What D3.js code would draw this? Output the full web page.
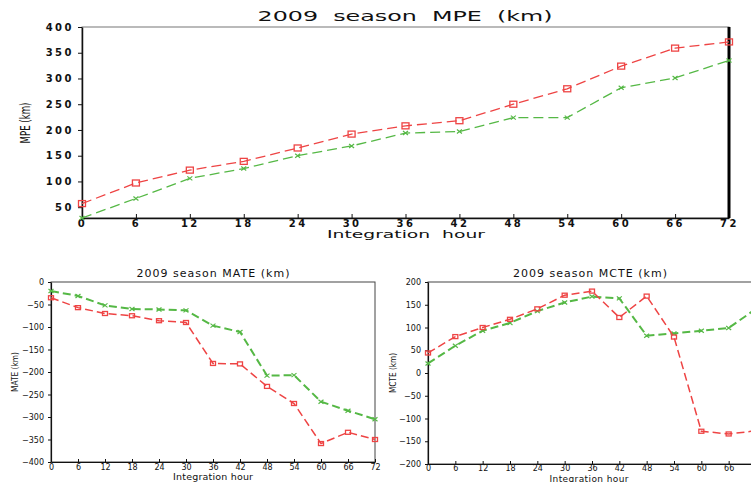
<!DOCTYPE html>
<html>
<head>
<meta charset="utf-8">
<script src="https://cdn.jsdelivr.net/npm/d3@7"></script>
<style>
  body { margin: 0; background: #fff; }
  svg { display: block; }
  text { font-family: "DejaVu Sans", sans-serif; fill: #111; white-space: pre; }
</style>
</head>
<body>
<script>
// Forecast hours shared by all three panels
const hours = [0, 6, 12, 18, 24, 30, 36, 42, 48, 54, 60, 66, 72];

// MPE (km)
const mpeRed   = [57, 97, 122, 139, 165, 192, 208, 218, 250, 280, 324, 359, 371];
const mpeGreen = [29, 67, 106, 125, 150, 169, 194, 197, 224, 224, 282, 301, 335];
const mpeTicks = [50, 100, 150, 200, 250, 300, 350, 400];

// MATE (km)
const mateRed   = [-35, -57, -70, -75, -86, -90, -181, -182, -232, -270, -359, -334, -350];
const mateGreen = [-20, -31, -52, -60, -61, -63, -97, -111, -208, -207, -266, -286, -305];
const mateTicks = [-400, -350, -300, -250, -200, -150, -100, -50, 0];

// MCTE (km)
const mcteRed   = [44, 80, 100, 118, 141, 171, 180, 122, 169, 79, -128, -134, -127];
const mcteGreen = [21, 60, 93, 110, 136, 155, 168, 164, 82, 87, 93, 99, 141];
const mcteTicks = [-200, -150, -100, -50, 0, 50, 100, 150, 200];

const RED = '#ee4444';
const GREEN = '#55b845';

const svg = d3.select('body').append('svg')
    .attr('width', 751)
    .attr('height', 482);

// draws one panel
function drawPanel(p) {
    const x = d3.scaleLinear().domain([0, 72]).range([p.left, p.right]);
    const y = d3.scaleLinear().domain(p.yDomain).range([p.bottom, p.top]);
    const g = svg.append('g');

    const clipId = 'clip' + p.id;
    svg.append('clipPath').attr('id', clipId)
        .append('rect')
        .attr('x', p.left - 6).attr('y', p.top - 6)
        .attr('width', p.right - p.left + 12).attr('height', p.bottom - p.top + 12);

    // frame
    g.append('rect')
        .attr('x', p.left).attr('y', p.top)
        .attr('width', p.right - p.left).attr('height', p.bottom - p.top)
        .attr('fill', 'none')
        .attr('stroke', p.frameColor)
        .attr('stroke-width', 1);

    // axes
    const xAxis = d3.axisBottom(x).tickValues(hours).tickSize(p.tick).tickSizeOuter(0)
        .tickFormat(d3.format('d'));
    const yAxis = d3.axisLeft(y).tickValues(p.yTicks).tickSize(p.tick).tickSizeOuter(0)
        .tickFormat(d => String(d).replace('-', '\u2212'));

    const gx = g.append('g').attr('transform', `translate(0,${p.bottom})`).call(xAxis);
    const gy = g.append('g').attr('transform', `translate(${p.left},0)`).call(yAxis);
    [gx, gy].forEach(a => {
        a.select('.domain').attr('stroke', '#111').attr('stroke-width', p.axisWidth);
        a.selectAll('.tick line').attr('stroke', '#111');
        a.selectAll('text')
            .attr('fill', '#111')
            .style('font-size', p.tickFont + 'px')
            .style('font-weight', p.tickWeight)
            .style('letter-spacing', p.tickSpacing + 'px')
            .style('font-family', '"DejaVu Sans", sans-serif');
    });
    gx.selectAll('.tick line').attr('y2', -p.tick);
    gx.selectAll('text').attr('y', p.xTickY).attr('dy', '0.71em');
    gy.selectAll('text').attr('dx', p.yTickDx);

    if (p.rightBorder) {
        g.append('line')
            .attr('x1', p.right).attr('x2', p.right)
            .attr('y1', p.top).attr('y2', p.bottom)
            .attr('stroke', '#000').attr('stroke-width', 3);
    }

    // series
    const plot = g.append('g').attr('clip-path', `url(#${clipId})`);
    const line = d3.line().x((d, i) => x(hours[i])).y(d => y(d));

    plot.append('path').datum(p.green)
        .attr('d', line).attr('fill', 'none')
        .attr('stroke', GREEN).attr('stroke-width', p.greenWidth)
        .attr('stroke-dasharray', p.dash);
    plot.selectAll('.gm').data(p.green).enter().append('path')
        .attr('class', 'gm')
        .attr('transform', (d, i) => `translate(${x(hours[i])},${y(d)})`)
        .attr('d', 'M-2.5,-2L2.5,2M-2.5,2L2.5,-2')
        .attr('stroke', GREEN).attr('stroke-width', 1.2);

    plot.append('path').datum(p.red)
        .attr('d', line).attr('fill', 'none')
        .attr('stroke', RED).attr('stroke-width', p.lineWidth)
        .attr('stroke-dasharray', p.dash);
    plot.selectAll('.rm').data(p.red).enter().append('rect')
        .attr('class', 'rm')
        .attr('x', (d, i) => x(hours[i]) - p.sq / 2)
        .attr('y', d => y(d) - p.sq / 2 + 0.5)
        .attr('width', p.sq).attr('height', p.sq - 1)
        .attr('fill', 'none')
        .attr('stroke', RED).attr('stroke-width', 1.3);

    // texts
    svg.append('text')
        .attr('x', p.titleX).attr('y', p.titleY)
        .attr('text-anchor', 'middle')
        .attr('textLength', p.titleLen).attr('lengthAdjust', p.adjust)
        .style('font-size', p.titleFont + 'px')
        .text(p.title);

    svg.append('text')
        .attr('x', p.xLabelX).attr('y', p.xLabelY)
        .attr('text-anchor', 'middle')
        .attr('textLength', p.xLabelLen).attr('lengthAdjust', p.adjust)
        .style('font-size', p.xLabelFont + 'px')
        .text(p.xLabel);

    svg.append('text')
        .attr('transform', `translate(${p.yLabelX},${p.yLabelY}) rotate(-90)`)
        .attr('text-anchor', 'middle')
        .attr('textLength', p.yLabelLen).attr('lengthAdjust', 'spacingAndGlyphs')
        .style('font-size', p.yLabelFont + 'px')
        .text(p.yLabel);
}

drawPanel({
    id: 'mpe', left: 82, right: 729, top: 27, bottom: 218,
    yDomain: [29, 400], yTicks: mpeTicks,
    red: mpeRed, green: mpeGreen,
    frameColor: '#777', axisWidth: 1.5, rightBorder: true, tick: 4,
    tickFont: 10, tickWeight: 'bold', tickSpacing: 2.5, xTickY: 2, yTickDx: '-1',
    lineWidth: 1.3, greenWidth: 1.3, dash: '10,5', sq: 7,
    adjust: 'spacingAndGlyphs',
    title: '2009  season  MPE  (km)', titleX: 405, titleY: 21, titleLen: 295, titleFont: 14,
    xLabel: 'Integration  hour', xLabelX: 406, xLabelY: 238, xLabelLen: 158, xLabelFont: 11,
    yLabel: 'MPE (km)', yLabelX: 30, yLabelY: 123, yLabelLen: 41, yLabelFont: 14
});

drawPanel({
    id: 'mate', left: 51, right: 375, top: 282, bottom: 462,
    yDomain: [-400, 0], yTicks: mateTicks,
    red: mateRed, green: mateGreen,
    frameColor: '#444', axisWidth: 1.2, rightBorder: false, tick: 3,
    tickFont: 8, tickWeight: 'normal', tickSpacing: 0, xTickY: 2, yTickDx: '-1',
    lineWidth: 1.5, greenWidth: 2, dash: '8,4', sq: 5,
    adjust: 'spacing',
    title: '2009 season MATE (km)', titleX: 213, titleY: 277, titleLen: 153, titleFont: 11,
    xLabel: 'Integration hour', xLabelX: 213, xLabelY: 480, xLabelLen: 80, xLabelFont: 9.5,
    yLabel: 'MATE (km)', yLabelX: 18, yLabelY: 372, yLabelLen: 40, yLabelFont: 9
});

drawPanel({
    id: 'mcte', left: 428, right: 756, top: 282, bottom: 464,
    yDomain: [-200, 200], yTicks: mcteTicks,
    red: mcteRed, green: mcteGreen,
    frameColor: '#444', axisWidth: 1.2, rightBorder: false, tick: 3,
    tickFont: 8, tickWeight: 'normal', tickSpacing: 0, xTickY: 1, yTickDx: '-1',
    lineWidth: 1.5, greenWidth: 2, dash: '8,4', sq: 5,
    adjust: 'spacing',
    title: '2009 season MCTE (km)', titleX: 590, titleY: 277, titleLen: 154, titleFont: 11,
    xLabel: 'Integration hour', xLabelX: 589, xLabelY: 481.5, xLabelLen: 79, xLabelFont: 9,
    yLabel: 'MCTE (km)', yLabelX: 396, yLabelY: 373, yLabelLen: 40, yLabelFont: 9
});
</script>
</body>
</html>
